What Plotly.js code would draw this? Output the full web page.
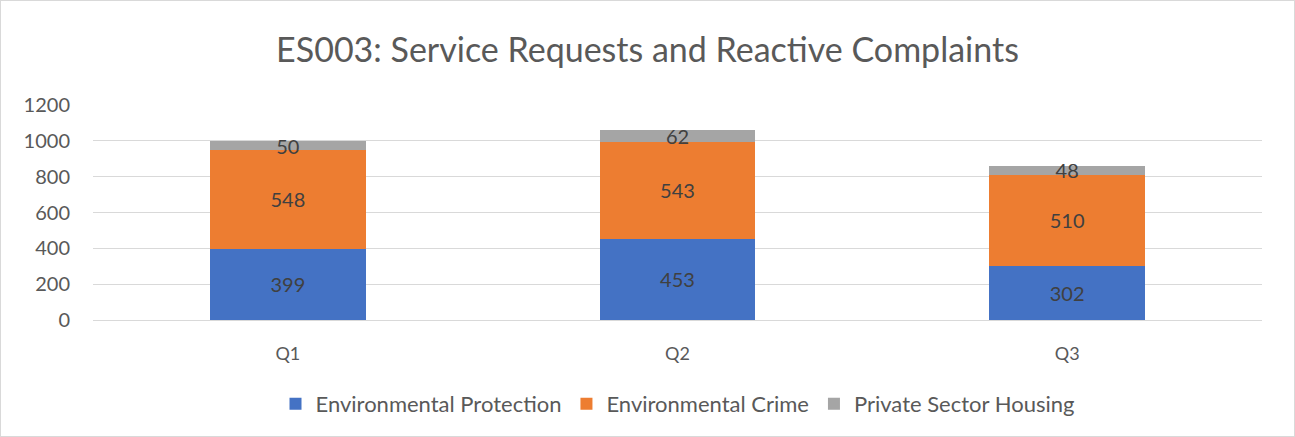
<!DOCTYPE html>
<html>
<head>
<meta charset="utf-8">
<script src="https://cdn.plot.ly/plotly-3.0.1.min.js"></script>
<style>
html,body{margin:0;padding:0;background:#fff;}
#chart{position:absolute;left:0;top:0;width:1295px;height:437px;}
#frame{position:absolute;left:0;top:0;width:1295px;height:437px;box-sizing:border-box;border:1px solid #d9d9d9;pointer-events:none;}
</style>
</head>
<body>
<div id="chart"></div>
<div id="frame"></div>
<script>
const categories = ["Q1", "Q2", "Q3"];
const environmentalProtection = [399, 453, 302];
const environmentalCrime = [548, 543, 510];
const privateSectorHousing = [50, 62, 48];

const FONT = "Lato, 'Open Sans', sans-serif";

function series(name, values, color) {
  return {
    type: "bar",
    name: name,
    x: categories,
    y: values,
    text: values.map(String),
    textposition: "inside",
    insidetextanchor: "middle",
    constraintext: "none",
    textangle: 0,
    textfont: {family: FONT, size: 20, color: "#404040"},
    marker: {color: color},
    hoverinfo: "x+y+name"
  };
}

const data = [
  series("Environmental Protection", environmentalProtection, "#4472C4"),
  series("Environmental Crime", environmentalCrime, "#ED7D31"),
  series("Private Sector Housing", privateSectorHousing, "#A5A5A5")
];

const layout = {
  width: 1295,
  height: 437,
  margin: {l: 93, r: 33, t: 105, b: 117},
  paper_bgcolor: "#ffffff",
  plot_bgcolor: "#ffffff",
  barmode: "stack",
  bargap: 0.6,
  font: {family: FONT, color: "#595959"},
  title: {
    text: "ES003: Service Requests and Reactive Complaints",
    font: {family: FONT, size: 34, color: "#595959"},
    x: 0.5, xanchor: "center",
    y: 1 - 50/437, yanchor: "middle", yref: "container"
  },
  xaxis: {
    type: "category",
    showgrid: false,
    showline: false,
    zeroline: false,
    ticks: "",
    tickfont: {family: FONT, size: 18, color: "#595959"},
    ticklabelstandoff: 21
  },
  yaxis: {
    range: [0, 1200],
    dtick: 200,
    tick0: 0,
    showgrid: true,
    gridcolor: "#d9d9d9",
    gridwidth: 1,
    zeroline: true,
    zerolinecolor: "#d9d9d9",
    zerolinewidth: 1,
    showline: false,
    ticks: "",
    tickfont: {family: FONT, size: 20, color: "#595959"},
    ticklabelstandoff: 22
  },
  legend: {
    orientation: "h",
    x: 0.5, xanchor: "center",
    y: -(404 - 320) / 215, yanchor: "middle",
    font: {family: FONT, size: 22, color: "#595959"},
    traceorder: "normal",
    itemwidth: 30
  },
  showlegend: true
};

Plotly.newPlot("chart", data, layout, {displayModeBar: false, staticPlot: true});
</script>
</body>
</html>
